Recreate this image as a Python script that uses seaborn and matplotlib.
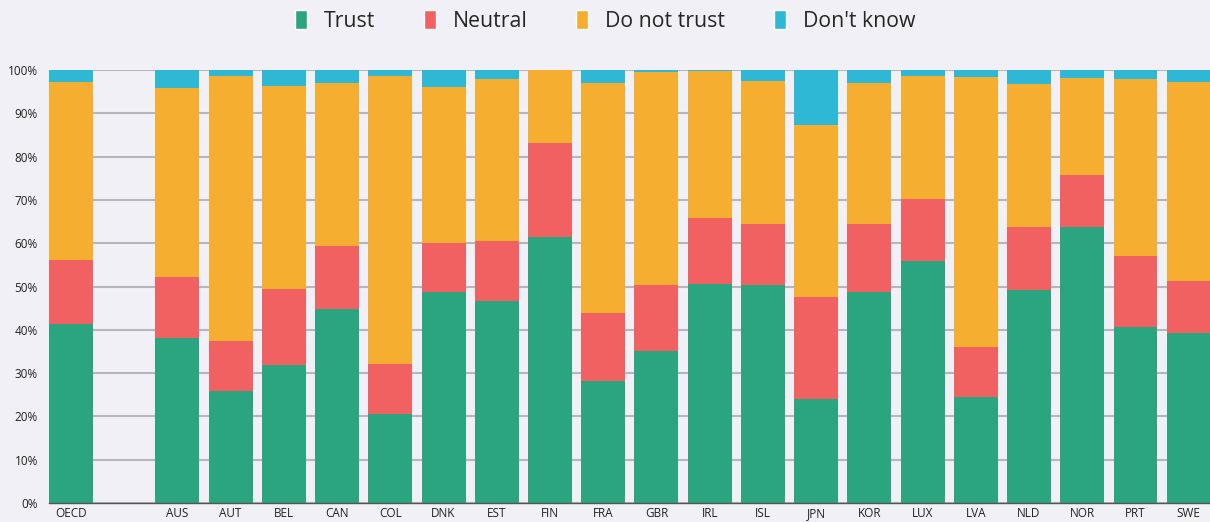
import matplotlib
matplotlib.use("Agg")
import matplotlib.pyplot as plt
import seaborn as sns
import pandas as pd
from matplotlib.patches import Patch
from matplotlib.ticker import PercentFormatter

countries = ["OECD", "AUS", "AUT", "BEL", "CAN", "COL", "DNK", "EST", "FIN", "FRA",
             "GBR", "IRL", "ISL", "JPN", "KOR", "LUX", "LVA", "NLD", "NOR", "PRT", "SWE"]
trust = [41.4, 38.2, 25.9, 31.9, 44.8, 20.6, 48.8, 46.7, 61.5, 28.2,
         35.0, 50.6, 50.3, 24.1, 48.8, 55.9, 24.5, 49.3, 63.8, 40.7, 39.2]
neutral = [14.8, 14.0, 11.6, 17.6, 14.6, 11.6, 11.3, 13.8, 21.7, 15.7,
           15.4, 15.2, 14.2, 23.5, 15.7, 14.3, 11.6, 14.5, 12.0, 16.4, 12.1]
do_not_trust = [41.0, 43.6, 61.1, 46.8, 37.6, 66.4, 36.0, 37.4, 16.8, 53.1,
                49.1, 34.0, 33.0, 39.7, 32.5, 28.4, 62.3, 33.0, 22.4, 40.8, 45.9]
dont_know = [2.8, 4.2, 1.4, 3.7, 3.0, 1.4, 4.1, 2.1, 0.2, 3.2,
             0.5, 0.2, 2.5, 12.7, 3.0, 1.4, 1.6, 3.2, 1.8, 2.1, 3.0]

series = ["Trust", "Neutral", "Do not trust", "Don't know"]
colors = ["#2aa57f", "#f26161", "#f5ae2f", "#2fb8d6"]

# empty slot between OECD and the countries
order = ["OECD", ""] + countries[1:]

df = pd.DataFrame({"country": countries, "Trust": trust, "Neutral": neutral,
                   "Do not trust": do_not_trust, "Don't know": dont_know})

sns.set_theme(style="white")
plt.rcParams["font.family"] = ["Open Sans", "DejaVu Sans"]

bg = "#f1f0f6"
fig = plt.figure(figsize=(12.1, 5.22), dpi=100, facecolor=bg)
ax = fig.add_axes([49 / 1210, 1 - 503 / 522, 1 - 49 / 1210, (503 - 70) / 522])
ax.set_facecolor(bg)

# stacked bars: draw cumulative totals from the top layer down
for i in range(len(series) - 1, -1, -1):
    cum = df[series[:i + 1]].sum(axis=1)
    sns.barplot(x=df["country"], y=cum, order=order, color=colors[i],
                width=0.826, saturation=1, ax=ax, zorder=3, errorbar=None,
                linewidth=0, edgecolor="none")

ax.set_xlim(-0.413, 21.40)
ax.set_ylim(0, 100)
ax.set_yticks(range(0, 101, 10))
ax.yaxis.set_major_formatter(PercentFormatter(decimals=0))
ax.grid(axis="y", color="#b6b6be", linewidth=1.5, zorder=0)
ax.set_axisbelow(True)
for s in ["top", "right", "left"]:
    ax.spines[s].set_visible(False)
ax.spines["bottom"].set_color("#555555")
ax.spines["bottom"].set_linewidth(1)
ax.spines["bottom"].set_zorder(4)
ax.tick_params(axis="both", length=0, labelsize=8.5, labelcolor="#222222")
ax.tick_params(axis="y", pad=8)
ax.tick_params(axis="x", pad=3)
ax.set_xlabel("")
ax.set_ylabel("")

handles = [Patch(facecolor=c, label=l) for c, l in zip(colors, series)]
fig.legend(handles=handles, loc="center", bbox_to_anchor=(0.5, 1 - 21 / 522), ncol=4,
           frameon=False, fontsize=15.3, handlelength=0.55, handleheight=1.0,
           handletextpad=0.8, columnspacing=2.3)

fig.savefig("out.png", dpi=100, facecolor=bg)
